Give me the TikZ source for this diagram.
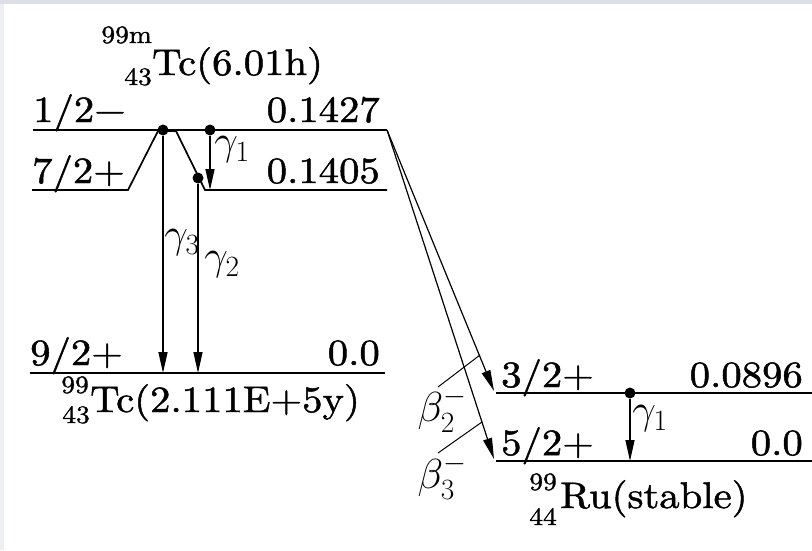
\RequirePackage{fix-cm}
\documentclass[tikz,border=0pt]{standalone}
\usepackage{amsmath,amssymb}
\usepackage{fontspec}
\setmainfont{lmroman10-regular}[Extension=.otf,FakeStretch=1.1,FakeBold=1.3]
\usepackage{xcolor}
\usetikzlibrary{arrows.meta}
\definecolor{topband}{HTML}{DCDFE7}
\definecolor{sideband}{HTML}{EDEFF3}

\begin{document}
\begin{tikzpicture}[x=1pt,y=-1pt,
  levelline/.style={line width=1.7pt},
  gammaarrow/.style={line width=1.4pt,-{Triangle[length=21pt,width=9pt]}},
  betaarrow/.style={line width=1.2pt,-{Triangle[length=21pt,width=9pt]}},
  leaderline/.style={line width=1pt},
  pointdot/.style={circle,fill=black,inner sep=0pt,minimum size=11pt},
  bigtext/.style={font=\fontsize{37}{42}\selectfont,inner sep=0pt},
  smalltext/.style={font=\fontsize{25}{29}\selectfont,inner sep=0pt},
  greek/.style={font=\fontsize{42}{47}\selectfont,inner sep=0pt}]
\fill[white] (0,0) rectangle (812,550);
\fill[topband] (0,0) rectangle (812,4);
\fill[sideband] (0,4) rectangle (4,550);
\useasboundingbox (0,0) rectangle (812,550);

\coordinate (a1) at (33,130);
\coordinate (a2) at (387,130);
\coordinate (b1) at (32,190);
\coordinate (b2) at (128,190);
\coordinate (b3) at (158,131);
\coordinate (b4) at (176,131);
\coordinate (b5) at (205,190);
\coordinate (b6) at (387,190);
\coordinate (c1) at (30,373);
\coordinate (c2) at (385,373);
\coordinate (d1) at (496,393);
\coordinate (d2) at (812,393);
\coordinate (e1) at (496,461);
\coordinate (e2) at (812,461);

\draw[levelline] (a1) -- (a2);
\draw[levelline] (b1) -- (b2) -- (b3) -- (b4) -- (b5) -- (b6);
\draw[levelline] (c1) -- (c2);
\draw[levelline] (d1) -- (d2);
\draw[levelline] (e1) -- (e2);

\node[pointdot] (p3) at (163,130) {};
\node[pointdot] (p1) at (210,130) {};
\node[pointdot] (p2) at (198,178) {};
\node[pointdot] (q1) at (630,393) {};

\coordinate (g3) at (163,373);
\coordinate (g2) at (198,373);
\coordinate (g1) at (210,190);
\coordinate (h1) at (630,461);
\draw[gammaarrow] (p3) -- (g3);
\draw[gammaarrow] (p2) -- (g2);
\draw[gammaarrow] (p1) -- (g1);
\draw[gammaarrow] (q1) -- (h1);

\coordinate (bt2) at (494,391);
\coordinate (bt3) at (494,459);
\draw[betaarrow] (a2) -- (bt2);
\draw[betaarrow] (a2) -- (bt3);

\coordinate (l2a) at (438,387);
\coordinate (l2b) at (480,355);
\coordinate (l3a) at (438,453);
\coordinate (l3b) at (482,422);
\draw[leaderline] (l2a) -- (l2b);
\draw[leaderline] (l3a) -- (l3b);

\node[bigtext,anchor=base west] (s12) at (33,122) {1/2−};
\node[bigtext,anchor=base east] (v1427) at (380,122) {0.1427};
\node[bigtext,anchor=base west] (s72) at (32,183) {7/2+};
\node[bigtext,anchor=base east] (v1405) at (380,183) {0.1405};
\node[bigtext,anchor=base west] (s92) at (30,365) {9/2+};
\node[bigtext,anchor=base east] (v00a) at (380,365) {0.0};
\node[bigtext,anchor=base west] (s32) at (501,387) {3/2+};
\node[bigtext,anchor=base east] (v0896) at (803,387) {0.0896};
\node[bigtext,anchor=base west] (s52) at (501,455) {5/2+};
\node[bigtext,anchor=base east] (v00b) at (803,455) {0.0};

\node[bigtext,anchor=base west] (tcm) at (152,75) {Tc(6.01h)};
\node[smalltext,anchor=base east] (tcmA) at (152,43) {99m};
\node[smalltext,anchor=base east] (tcmZ) at (152,85) {43};
\node[bigtext,anchor=base west] (tc) at (90,412) {Tc(2.111E+5y)};
\node[smalltext,anchor=base east] (tcA) at (89,393) {99};
\node[smalltext,anchor=base east] (tcZ) at (90,423) {43};
\node[bigtext,anchor=base west] (ru) at (560,508) {Ru(stable)};
\node[smalltext,anchor=base east] (ruA) at (557,490) {99};
\node[smalltext,anchor=base east] (ruZ) at (557,525) {44};

\node[greek] (lg1) at (232,150) {$\gamma_1$};
\node[greek] (lg3) at (182,243) {$\gamma_3$};
\node[greek] (lg2) at (222,265) {$\gamma_2$};
\node[greek] (lh1) at (650,419) {$\gamma_1$};
\node[greek] (lb2) at (442,410) {$\beta_2^-$};
\node[greek] (lb3) at (442,477) {$\beta_3^-$};
\end{tikzpicture}
\end{document}
